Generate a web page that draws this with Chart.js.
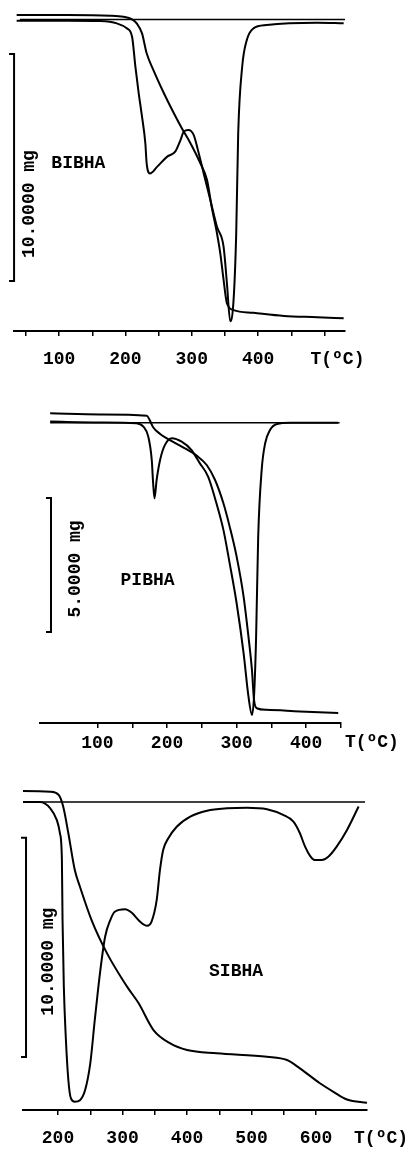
<!DOCTYPE html>
<html>
<head>
<meta charset="utf-8">
<script src="https://cdn.jsdelivr.net/npm/chart.js@4.4.1/dist/chart.umd.min.js"></script>
<style>
  html, body { margin: 0; padding: 0; background: #fff; }
  body { width: 412px; height: 1149px; position: relative; overflow: hidden; }
  canvas { position: absolute; left: 0; }
</style>
</head>
<body>
<canvas id="c1" width="412" height="370" style="top:0px"></canvas>
<canvas id="c2" width="412" height="392" style="top:370px"></canvas>
<canvas id="c3" width="412" height="387" style="top:762px"></canvas>
<script>
// [T (ºC), signal below baseline (mg)]
const bibhaTG = [[36,-0.2],[112,-0.2],[177,-0.17],[197,-0.12],[210,-0.01],[217,0.17],[225,0.61],[232,1.49],[242,2.22],[258,3.25],[273,4.13],[285,4.79],[298,5.45],[313,6.34],[323,7.07],[330,8.25],[338,9.42],[343,10.3],[348,11.48],[353,12.5],[363,12.8],[393,12.92],[439,13.06],[489,13.11],[529,13.16]];
const bibhaDTA = [[36,0.05],[112,0.05],[162,0.07],[187,0.17],[202,0.39],[210,0.76],[215,2.08],[220,3.25],[225,4.28],[230,5.45],[232,6.34],[237,6.78],[248,6.48],[263,6.04],[275,5.82],[283,5.31],[288,4.94],[295,4.87],[303,5.09],[308,5.6],[318,6.78],[328,7.95],[338,9.13],[348,10.01],[353,11.62],[358,13.29],[363,12.36],[367,9.42],[370,5.01],[376,2.08],[383,0.9],[393,0.39],[413,0.24],[489,0.14],[529,0.17]];
const bibhaBase = [[41,0],[532,0]];
const bibhaTicks = [50,100,150,200,250,300,350,400,450,500];
const bibhaLabels = [100,200,300,400];

const pibhaTG = [[32,-0.35],[104,-0.31],[171,-0.26],[175,-0.1],[180,0.17],[190,0.42],[204,0.65],[223,0.92],[243,1.24],[257,1.58],[269,2.14],[281,3.01],[290,3.88],[300,5.0],[310,6.49],[317,7.99],[322,9.23],[325,10.35],[329,10.66],[343,10.72],[391,10.78],[446,10.84]];
const pibhaDTA = [[32,-0.04],[104,-0.01],[156,0.02],[166,0.15],[173,0.52],[178,1.39],[180,2.26],[182,2.82],[185,2.14],[190,1.39],[197,0.83],[207,0.58],[221,0.71],[235,1.02],[247,1.51],[259,2.01],[271,3.01],[281,4.0],[290,5.25],[300,6.74],[310,8.6],[317,10.22],[322,10.91],[325,10.22],[328,7.99],[331,4.25],[336,1.76],[341,0.77],[348,0.27],[358,0.05],[377,0],[446,0]];
const pibhaBase = [[32,0],[448,0]];
const pibhaTicks = [100,150,200,250,300,350,400,450];
const pibhaLabels = [100,200,300,400];

const sibhaTG = [[144,-0.5],[188,-0.47],[201,-0.32],[208,0.21],[216,1.43],[226,3.11],[234,3.87],[252,5.39],[276,6.91],[307,8.43],[325,9.19],[348,10.41],[374,11.02],[400,11.32],[446,11.47],[524,11.63],[555,11.78],[575,12.16],[606,12.84],[627,13.23],[648,13.58],[679,13.73]];
const sibhaDTA = [[144,0],[172,0],[188,0.29],[198,0.82],[203,1.43],[206,2.65],[207,5.39],[209,8.43],[212,10.72],[216,12.69],[220,13.53],[226,13.68],[234,13.61],[242,13.15],[250,11.93],[257,9.95],[265,7.82],[273,6.15],[281,5.39],[288,5.01],[304,4.9],[314,5.05],[327,5.46],[338,5.65],[345,5.46],[353,4.47],[358,3.11],[363,2.19],[371,1.66],[384,1.13],[405,0.67],[431,0.4],[462,0.29],[493,0.26],[524,0.33],[549,0.59],[565,0.9],[575,1.43],[583,2.04],[591,2.47],[598,2.65],[609,2.65],[619,2.5],[632,2.04],[648,1.28],[666,0.21]];
const sibhaBase = [[144,0],[676,0]];
const sibhaTicks = [200,250,300,350,400,450,500,550,600];
const sibhaLabels = [200,300,400,500,600];

const FONT = '"Liberation Mono", "DejaVu Sans Mono", monospace';

const annot = {
  id: 'annot',
  afterDraw(chart, args, o) {
    const { ctx, chartArea } = chart;
    const x = chart.scales.x, y = chart.scales.y;
    ctx.save();
    ctx.strokeStyle = '#000';
    ctx.fillStyle = '#000';
    ctx.lineWidth = 2;
    // scale bar
    const bx = x.getPixelForValue(o.bar[0]);
    const b1 = y.getPixelForValue(o.bar[1]);
    const b2 = y.getPixelForValue(o.bar[2]);
    ctx.beginPath();
    ctx.moveTo(bx - 5, b1);
    ctx.lineTo(bx, b1);
    ctx.lineTo(bx, b2);
    ctx.lineTo(bx - 5, b2);
    ctx.stroke();

    ctx.font = 'bold 18px ' + FONT;
    ctx.textAlign = 'center';
    ctx.textBaseline = 'middle';
    ctx.save();
    ctx.translate(x.getPixelForValue(o.barLabelAt[0]), y.getPixelForValue(o.barLabelAt[1]));
    ctx.rotate(-Math.PI / 2);
    ctx.fillText(o.barText, 0, 0);
    ctx.restore();

    ctx.fillText(o.name, x.getPixelForValue(o.nameAt[0]), y.getPixelForValue(o.nameAt[1]));
    ctx.fillText('T(ºC)', x.getPixelForValue(o.unitAt), chartArea.bottom + o.unitDy);
    ctx.restore();
  }
};

const pts = arr => arr.map(p => ({ x: p[0], y: p[1] }));

function makePanel(id, p) {
  return new Chart(document.getElementById(id), {
    type: 'line',
    data: {
      datasets: [
        { data: pts(p.base), borderWidth: 1.5, cubicInterpolationMode: 'default', tension: 0 },
        { data: pts(p.tg) },
        { data: pts(p.dta) }
      ]
    },
    plugins: [annot],
    options: {
      responsive: false,
      animation: false,
      events: [],
      layout: { padding: { left: p.left, right: p.right, top: p.top, bottom: 0 } },
      elements: {
        point: { radius: 0 },
        line: { borderColor: '#000', borderWidth: 2, fill: false, cubicInterpolationMode: 'monotone' }
      },
      plugins: {
        legend: { display: false },
        tooltip: { enabled: false },
        annot: p.annot
      },
      scales: {
        x: {
          type: 'linear',
          min: p.xMin,
          max: p.xMax,
          afterBuildTicks: s => { s.ticks = p.ticks.map(v => ({ value: v })); },
          afterFit: s => { s.height = 39; },
          border: { display: true, color: '#000', width: 2 },
          grid: { display: true, drawOnChartArea: false, drawTicks: true, tickLength: 5, color: '#000', lineWidth: 1.5 },
          ticks: {
            color: '#000',
            font: { family: FONT, size: 18, weight: 'bold' },
            padding: p.tickPad,
            maxRotation: 0,
            autoSkip: false,
            callback: v => p.labels.includes(v) ? String(v) : ''
          }
        },
        y: { type: 'linear', display: false, reverse: true, min: p.yMin, max: p.yMax }
      }
    }
  });
}

makePanel('c1', {
  tg: bibhaTG, dta: bibhaDTA, base: bibhaBase, ticks: bibhaTicks, labels: bibhaLabels,
  xMin: 32, xMax: 531, yMin: -0.815, yMax: 13.72,
  left: 14, right: 67, top: 1, tickPad: 13,
  annot: { bar: [32.1, 1.52, 11.52], barText: '10.0000 mg', barLabelAt: [56, 8.13],
           name: 'BIBHA', nameAt: [129, 6.32], unitAt: 519.6, unitDy: 28 }
});

makePanel('c2', {
  tg: pibhaTG, dta: pibhaDTA, base: pibhaBase, ticks: pibhaTicks, labels: pibhaLabels,
  xMin: 17.4, xMax: 450, yMin: -1.22, yMax: 11.21,
  left: 40, right: 71, top: 20, tickPad: 5,
  annot: { bar: [33.2, 2.81, 7.81], barText: '5.0000 mg', barLabelAt: [67.7, 5.46],
           name: 'PIBHA', nameAt: [172, 5.9], unitAt: 494.4, unitDy: 19.5 }
});

makePanel('c3', {
  tg: sibhaTG, dta: sibhaDTA, base: sibhaBase, ticks: sibhaTicks, labels: sibhaLabels,
  xMin: 145.7, xMax: 679, yMin: -0.91, yMax: 14.06,
  left: 23, right: 45, top: 20, tickPad: 13,
  annot: { bar: [150.4, 1.64, 11.64], barText: '10.0000 mg', barLabelAt: [184.5, 7.29],
           name: 'SIBHA', nameAt: [476, 7.75], unitAt: 700.8, unitDy: 28 }
});
</script>
</body>
</html>
